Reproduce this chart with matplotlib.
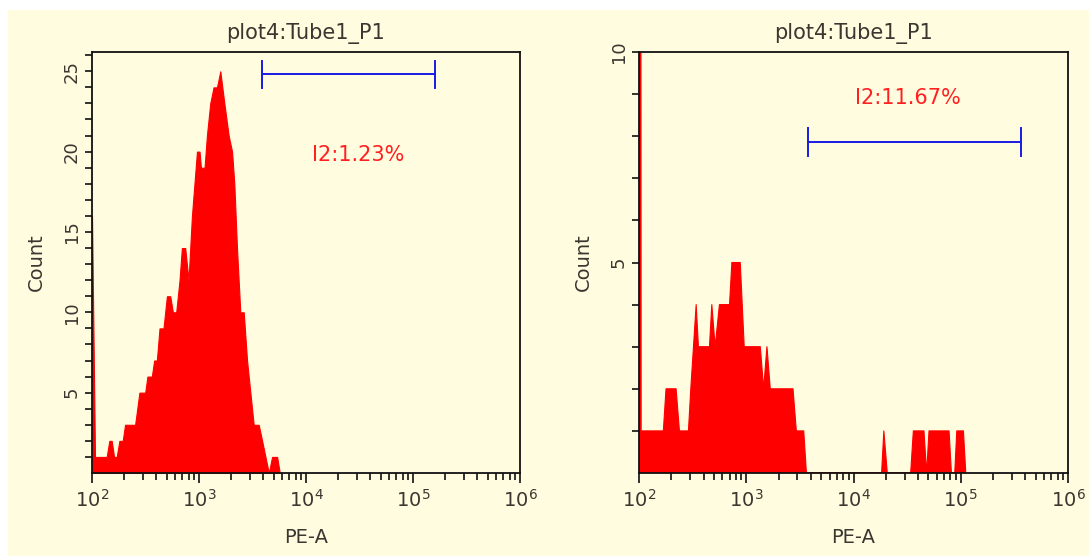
import numpy as np
import matplotlib
matplotlib.use("Agg")
import matplotlib.pyplot as plt
from matplotlib.patches import Rectangle
from matplotlib.ticker import LogLocator, FixedLocator

# ---- data (log10 of PE-A, count) ----
left_log_pe = [2.000, 2.028, 2.137, 2.162, 2.184, 2.206, 2.231, 2.256, 2.287, 2.309,
               2.403, 2.443, 2.497, 2.518, 2.559, 2.581, 2.606, 2.631, 2.668, 2.700,
               2.731, 2.756, 2.787, 2.818, 2.840, 2.871, 2.902, 2.934, 2.981, 3.005,
               3.018, 3.052, 3.074, 3.105, 3.136, 3.168, 3.199, 3.237, 3.277, 3.309,
               3.330, 3.355, 3.386, 3.418, 3.449, 3.480, 3.511, 3.558, 3.590, 3.621,
               3.652, 3.683, 3.730, 3.755]
left_count = [16, 1, 1, 2, 2, 1, 1, 2, 2, 3,
              3, 5, 5, 6, 6, 7, 7, 9, 9, 11,
              11, 10, 10, 12, 14, 14, 12, 16, 20, 20,
              19, 19, 21, 23, 24, 24, 25, 23, 21, 20,
              18, 14, 10, 10, 7, 5, 3, 3, 2, 1,
              0, 1, 1, 0]

right_log_pe = [2.000, 2.020, 2.040, 2.227, 2.252, 2.346, 2.377, 2.461, 2.483, 2.533,
                2.554, 2.657, 2.679, 2.710, 2.750, 2.844, 2.866, 2.944, 2.981, 3.131,
                3.162, 3.193, 3.224, 3.436, 3.467, 3.536, 3.561, 4.262, 4.283, 4.315,
                4.533, 4.558, 4.657, 4.682, 4.704, 4.891, 4.913, 4.944, 4.963, 5.025,
                5.047]
right_count = [100, 1, 1, 1, 2, 2, 1, 1, 2, 4,
               3, 3, 4, 3, 4, 4, 5, 5, 3, 3,
               2, 3, 2, 2, 1, 1, 0, 0, 1, 0,
               0, 1, 1, 0, 1, 1, 0, 0, 1, 1,
               0]

titles = ["plot4:Tube1_P1", "plot4:Tube1_P1"]
xlabel = "PE-A"
ylabel = "Count"
gate_labels = ["I2:1.23%", "I2:11.67%"]
left_gate = [3917, 160000]
right_gate = [3793, 364000]

BG = "#FFFCE0"
TXT = "#3a3630"

plt.rcParams['font.family'] = ['DejaVu Sans']

fig = plt.figure(figsize=(10.89, 5.56), dpi=100, facecolor=BG)
# white strips at top and left
fig.patches.append(Rectangle((0, 1 - 10/556), 1, 10/556, transform=fig.transFigure,
                             facecolor="white", edgecolor="none", zorder=-1))
fig.patches.append(Rectangle((0, 0), 8/1089, 1, transform=fig.transFigure,
                             facecolor="white", edgecolor="none", zorder=-1))

axL = fig.add_axes([92/1089, 1 - 473/556, (520 - 92)/1089, (473 - 52)/556])
axR = fig.add_axes([639/1089, 1 - 473/556, (1068 - 639)/1089, (473 - 52)/556])


def style(ax, ymax, majors):
    ax.set_facecolor(BG)
    ax.set_xscale("log")
    ax.set_xlim(1e2, 1e6)
    ax.set_ylim(0, ymax)
    ax.xaxis.set_major_locator(LogLocator(base=10, numticks=10))
    ax.xaxis.set_minor_locator(LogLocator(base=10, subs=np.arange(2, 10), numticks=20))
    ax.yaxis.set_major_locator(FixedLocator(majors))
    ax.yaxis.set_minor_locator(FixedLocator(list(range(1, int(ymax) + 1))))
    for s in ax.spines.values():
        s.set_color("#111111")
        s.set_linewidth(1.3)
    ax.tick_params(axis="x", which="major", direction="out", length=7.5, width=1.2,
                   color="#111111", labelcolor=TXT, labelsize=14, pad=4)
    ax.tick_params(axis="x", which="minor", direction="out", length=5, width=1.2,
                   color="#111111")
    ax.tick_params(axis="y", which="both", direction="out", length=5, width=1.2,
                   color="#111111", labelcolor=TXT, labelsize=13, pad=3)
    ax.set_xlabel(xlabel, color=TXT, fontsize=14, labelpad=12)
    ax.set_ylabel(ylabel, color=TXT, fontsize=14, labelpad=12)


# left panel
xl = 10 ** np.array(left_log_pe)
axL.fill_between(xl, 0, left_count, color="#FF0000", lw=0.8, edgecolor="#FF0000")
style(axL, 26.2, [5, 10, 15, 20, 25])
axL.set_title(titles[0], color=TXT, fontsize=15, pad=9)
yg = 24.8
axL.plot(left_gate, [yg, yg], color="#1a1ae6", lw=1.4)
for gx in left_gate:
    axL.plot([gx, gx], [yg - 0.85, yg + 0.85], color="#1a1ae6", lw=1.4)
axL.text(10 ** 4.49, 19.8, gate_labels[0], color="#FF2020", fontsize=15,
         ha="center", va="center")

# right panel
xr = 10 ** np.array(right_log_pe)
axR.fill_between(xr, 0, right_count, color="#FF0000", lw=0.8, edgecolor="#FF0000")
style(axR, 10, [5, 10])
axR.set_title(titles[1], color=TXT, fontsize=15, pad=9)
yg = 7.86
axR.plot(right_gate, [yg, yg], color="#1a1ae6", lw=1.4)
for gx in right_gate:
    axR.plot([gx, gx], [yg - 0.33, yg + 0.33], color="#1a1ae6", lw=1.4)
axR.text(10 ** 4.505, 8.91, gate_labels[1], color="#FF2020", fontsize=15,
         ha="center", va="center")

for ax in (axL, axR):
    for lab in ax.get_yticklabels():
        lab.set_rotation(90)
        lab.set_va("center")

fig.savefig("out.png", dpi=100, facecolor=BG)
